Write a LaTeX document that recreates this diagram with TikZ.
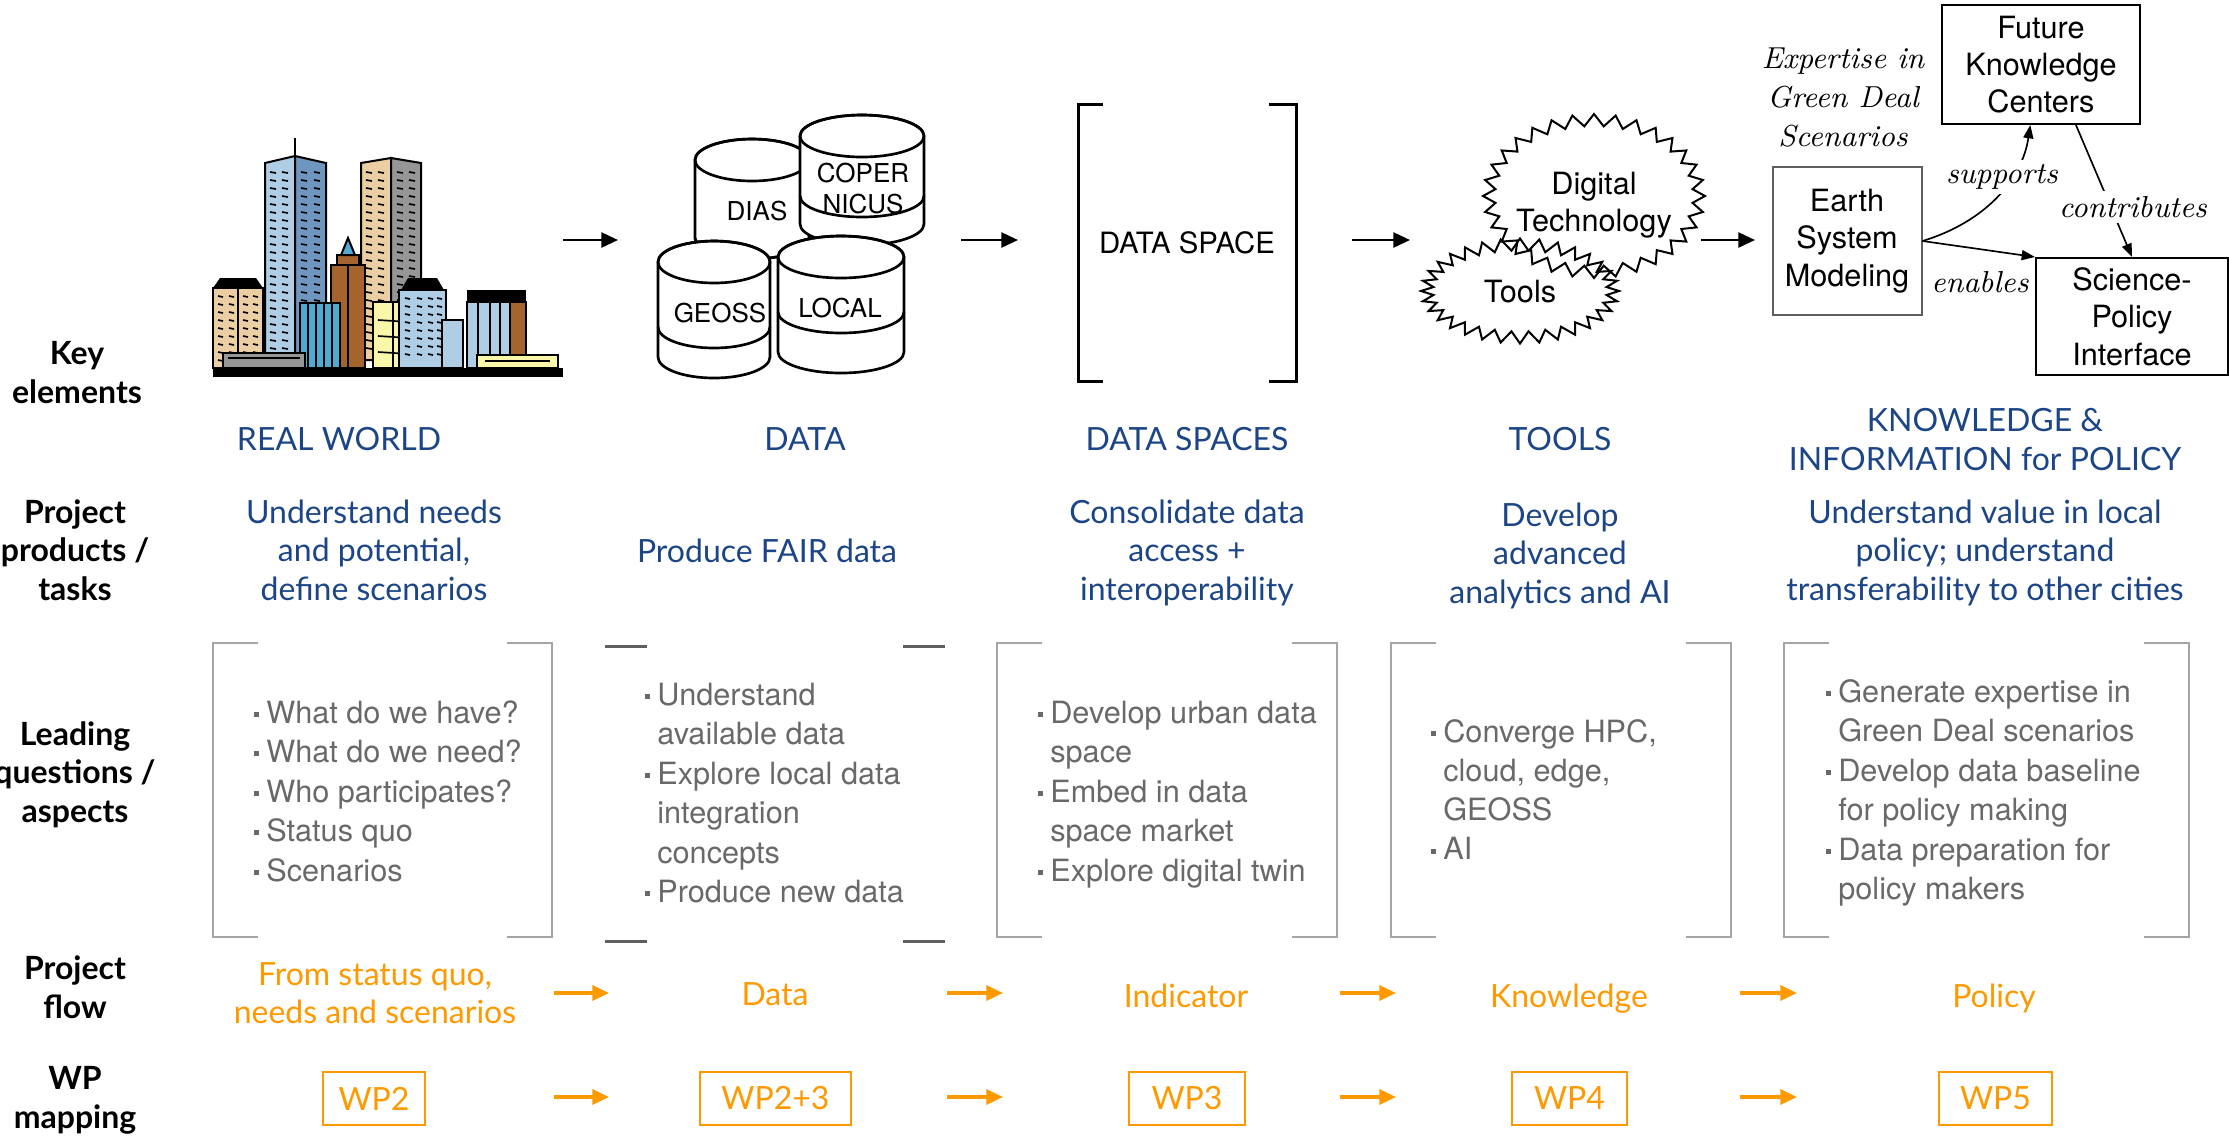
\documentclass[tikz,border=0pt]{standalone}
\usepackage{fontspec}
\newfontfamily\lato{Lato}
\newfontfamily\helv{TeX Gyre Heros}
\usetikzlibrary{arrows.meta,shapes.symbols}

\definecolor{kblue}{RGB}{28,69,135}
\definecolor{korange}{RGB}{255,153,0}
\definecolor{qgrey}{RGB}{105,105,105}
\definecolor{bgrey}{RGB}{165,165,165}
\definecolor{bdark}{RGB}{95,95,95}
\definecolor{ctan}{RGB}{236,206,165}
\definecolor{cblue}{RGB}{176,205,230}
\definecolor{csteel}{RGB}{110,150,190}
\definecolor{cbrown}{RGB}{165,100,45}
\definecolor{cyellow}{RGB}{250,246,170}
\definecolor{cteal}{RGB}{80,170,210}
\definecolor{cgrey}{RGB}{150,150,150}

\newcommand{\qb}{\makebox[3.8pt][l]{\rule[1.9pt]{1.5pt}{1.5pt}}}
\newcommand{\qc}{\hspace*{3.8pt}}

\tikzset{
  rowlab/.style={font=\lato\bfseries\fontsize{9.6}{11.55}\selectfont, align=center, anchor=base, inner sep=0pt},
  head/.style={font=\lato\fontsize{9.6}{11.55}\selectfont, text=kblue, align=center, anchor=base, inner sep=0pt},
  flowtxt/.style={font=\lato\fontsize{9.6}{11.4}\selectfont, text=korange, align=center, anchor=base, inner sep=0pt},
  qtext/.style={font=\helv\fontsize{9.2}{11}\selectfont, text=qgrey, anchor=base west, inner sep=0pt},
  wpbox/.style={draw=korange, line width=0.6pt, minimum height=16pt, inner sep=0pt, text=korange, font=\lato\fontsize{9.6}{11}\selectfont},
  flowarr/.style={korange, line width=1pt, -{Triangle[length=5pt,width=4.5pt]}},
  keyarr/.style={black, line width=0.8pt, -{Triangle[length=5pt,width=4.5pt]}},
  brk/.style={draw=bgrey, line width=0.5pt},
  city/.style={draw=black, line width=0.6pt},
  win/.style={black, line width=0.5pt},
  dbline/.style={draw=black, line width=0.8pt},
  dbtxt/.style={font=\helv\fontsize{7.8}{9.3}\selectfont, anchor=base, inner sep=0pt},
  sans/.style={font=\helv\fontsize{9.2}{11.2}\selectfont, align=center},
  burst/.style={draw, starburst, random starburst=0, starburst points=32, starburst point height=3.6pt, line width=0.6pt, inner sep=0pt},
  kbox/.style={draw, line width=0.6pt, sans, inner sep=0pt},
  lab/.style={font=\itshape\fontsize{9.1}{11.7}\selectfont, align=center, inner sep=1.5pt},
  conn/.style={line width=0.5pt, -{Triangle[length=4pt,width=3pt]}}
}

\begin{document}
\begin{tikzpicture}[x=0.3pt,y=0.3pt,yscale=-1,xscale=1]
\useasboundingbox (0,0) rectangle (2229,1139);

% row labels (base = last line)
\node[rowlab] (rkey) at (77,403) {Key\\elements};
\node[rowlab] (rprod) at (75,600) {Project\\products /\\tasks};
\node[rowlab] (rlead) at (75,822) {Leading\\questions /\\aspects};
\node[rowlab] (rflow) at (75,1018) {Project\\flow};
\node[rowlab] (rwp) at (75,1128) {WP\\mapping};

% city
\draw[city, fill=cblue] (265,163) -- (295,156) -- (295,360) -- (265,360) -- cycle;
\draw[city, fill=csteel] (295,156) -- (326,163) -- (326,360) -- (295,360) -- cycle;
\draw[city] (295,156) -- (295,138);
\draw[city, fill=ctan] (361,163) -- (391,158) -- (391,360) -- (361,360) -- cycle;
\draw[city, fill=cgrey] (391,158) -- (421,163) -- (421,360) -- (391,360) -- cycle;
\foreach \y in {172,180,...,348}
  \foreach \x in {270,282,301,314,366,378,397,409}
    \draw[win] (\x,\y) -- ++(6,1);
\draw[city, fill=ctan] (213,288) rectangle (263,368);
\fill (213,288) -- (220,278) -- (256,278) -- (263,288) -- cycle;
\draw[city] (238,288) -- (238,368);
\foreach \y in {296,304,...,360}
  \foreach \x in {218,229,243,253}
    \draw[win] (\x,\y) -- ++(5,1);
\draw[city, fill=cbrown] (331,265) rectangle (365,368);
\draw[city, fill=cbrown] (337,255) rectangle (359,265);
\draw[city, fill=cteal] (341,255) -- (348,238) -- (355,255) -- cycle;
\draw[city] (348,265) -- (348,368);
\draw[city, fill=cteal] (300,303) rectangle (340,368);
\foreach \x in {308,316,324,332}
  \draw[win] (\x,303) -- (\x,368);
\draw[city, fill=cyellow] (373,302) rectangle (414,368);
\draw[city] (393,302) -- (393,368);
\foreach \y in {320,336,352}
  \draw[win] (378,\y) -- (410,\y+2);
\draw[city, fill=cblue] (399,290) rectangle (446,368);
\fill (401,290) -- (408,278) -- (437,278) -- (444,290) -- cycle;
\foreach \y in {298,306,...,360}
  \foreach \x in {405,417,428,437}
    \draw[win] (\x,\y) -- ++(5,1);
\draw[city, fill=cblue] (442,320) rectangle (463,368);
\draw[city, fill=cblue] (467,302) rectangle (526,368);
\draw[city, fill=cbrown] (510,302) rectangle (526,368);
\fill (467,290) rectangle (526,302);
\foreach \x in {478,490,500}
  \draw[win] (\x,302) -- (\x,368);
\draw[city, fill=cgrey] (223,353) rectangle (305,368);
\draw[win] (228,358) -- (300,358);
\draw[city, fill=cyellow] (477,355) rectangle (558,368);
\draw[win] (485,361) -- (550,361);
\fill (213,368) rectangle (563,377);

% data cylinders
\foreach \cx/\ty/\rx/\by/\my in {752/160/57/238/238, 862/136/62/224/196, 714/262/56/357/327, 841/257/63/352/312} {
  \draw[dbline, fill=white] (\cx-\rx,\ty) -- (\cx-\rx,\by) arc[start angle=180, end angle=0, x radius=\rx, y radius=21] -- (\cx+\rx,\ty) arc[start angle=0, end angle=-180, x radius=\rx, y radius=21] -- cycle;
  \draw[dbline] (\cx,\ty) ellipse[x radius=\rx, y radius=21];
  \draw[dbline] (\cx-\rx,\my) arc[start angle=180, end angle=0, x radius=\rx, y radius=21];
}
\node[dbtxt] (dias) at (757,220) {DIAS};
\node[dbtxt, align=center] (coper) at (863,213) {COPER\\NICUS};
\node[dbtxt] (geoss) at (720,322) {GEOSS};
\node[dbtxt] (local) at (840,317) {LOCAL};

% data space
\draw[line width=0.9pt] (1103,104) -- (1078,104) -- (1078,381) -- (1103,381);
\draw[line width=0.9pt] (1269,104) -- (1296,104) -- (1296,381) -- (1269,381);
\node[sans, anchor=base, inner sep=0pt, font=\helv\fontsize{8.8}{10}\selectfont] (dspace) at (1187,253) {DATA SPACE};

% tools
\node[burst, minimum width=66.6pt, minimum height=49.2pt] (dtech) at (1594,196) {};
\node[burst, minimum width=59.4pt, minimum height=31.5pt] (tools) at (1520,291) {};
\node[sans, inner sep=0pt] (dtechtxt) at (1594,205) {Digital\\Technology};
\node[sans, inner sep=0pt] (toolstxt) at (1520,292) {Tools};

% knowledge
\node[kbox, draw=bdark, minimum width=44.7pt, minimum height=44.4pt] (esm) at (1847,241) {Earth\\System\\Modeling};
\node[kbox, minimum width=59.4pt, minimum height=35.7pt] (fkc) at (2041,64.5) {Future\\Knowledge\\Centers};
\node[kbox, minimum width=57.6pt, minimum height=35.1pt] (spi) at (2132,316.5) {Science-\\Policy\\Interface};
\node[lab] (expert) at (1843,98) {Expertise in\\Green Deal\\Scenarios};
\draw[conn] (esm.east) .. controls (1985,222) and (2022,180) .. (fkc.260);
\draw[conn] (esm.east) -- (spi.north west);
\draw[conn] (fkc.300) -- (spi.north);
\node[lab, fill=white] (lsup) at (2002,177) {supports};
\node[lab, fill=white] (lcon) at (2133,207) {contributes};
\node[lab] (lena) at (1980,282) {enables};

% key arrows
\foreach \xa/\xb [count=\i] in {563/618, 961/1018, 1352/1410, 1701/1755} {
  \coordinate (ka\i) at (\xa,240);
  \coordinate (kb\i) at (\xb,240);
  \draw[keyarr] (ka\i) -- (kb\i);
}

% headers
\node[head] (hreal) at (339,450) {REAL WORLD};
\node[head] (hdata) at (805,450) {DATA};
\node[head] (hspace) at (1187,450) {DATA SPACES};
\node[head] (htools) at (1560,450) {TOOLS};
\node[head] (hknow) at (1985,470) {KNOWLEDGE \&\\INFORMATION for POLICY};

% tasks
\node[head] (t1) at (374,600) {Understand needs\\and potential,\\define scenarios};
\node[head] (t2) at (767,562) {Produce FAIR data};
\node[head] (t3) at (1187,600) {Consolidate data\\access +\\interoperability};
\node[head] (t4) at (1560,603) {Develop\\advanced\\analytics and AI};
\node[head] (t5) at (1985,600) {Understand value in local\\policy; understand\\transferability to other cities};

% brackets
\foreach \l/\r in {213/552, 997/1337, 1391/1731, 1784/2189} {
  \draw[brk] (\l+45,643) -- (\l,643) -- (\l,937) -- (\l+45,937);
  \draw[brk] (\r-45,643) -- (\r,643) -- (\r,937) -- (\r-45,937);
}
\foreach \x in {605,903}
  \foreach \y in {646,941}
    \draw[draw=bdark, line width=0.9pt] (\x,\y) -- (\x+42,\y);

% questions
\foreach \t [count=\i] in {\qb What do we have?, \qb What do we need?, \qb Who participates?, \qb Status quo, \qb Scenarios}
  \node[qtext] (qa\i) at (253,723+39.5*\i-39.5) {\t};
\foreach \t [count=\i] in {\qb Understand, \qc available data, \qb Explore local data, \qc integration, \qc concepts, \qb Produce new data}
  \node[qtext] (qb\i) at (644,705+39.5*\i-39.5) {\t};
\foreach \t [count=\i] in {\qb Develop urban data, \qc space, \qb Embed in data, \qc space market, \qb Explore digital twin}
  \node[qtext] (qc\i) at (1037,723+39.5*\i-39.5) {\t};
\foreach \t [count=\i] in {{\qb Converge HPC,}, {\qc cloud, edge,}, \qc GEOSS, \qb AI}
  \node[qtext] (qd\i) at (1430,742+39.3*\i-39.3) {\t};
\foreach \t [count=\i] in {\qb Generate expertise in, \qc Green Deal scenarios, \qb Develop data baseline, \qc for policy making, \qb Data preparation for, \qc policy makers}
  \node[qtext] (qe\i) at (1825,702+39.5*\i-39.5) {\t};

% project flow
\node[flowtxt] (f1) at (375,1023) {From status quo,\\needs and scenarios};
\node[flowtxt] (f2) at (775,1005) {Data};
\node[flowtxt] (f3) at (1186,1007) {Indicator};
\node[flowtxt] (f4) at (1569,1007) {Knowledge};
\node[flowtxt] (f5) at (1994,1007) {Policy};

% wp mapping
\node[wpbox, minimum width=30.6pt] (wp2) at (374,1098.5) {WP2};
\node[wpbox, minimum width=45.3pt] (wp23) at (775.5,1098.5) {WP2+3};
\node[wpbox, minimum width=34.8pt] (wp3) at (1187,1098.5) {WP3};
\node[wpbox, minimum width=34.5pt] (wp4) at (1569.5,1098.5) {WP4};
\node[wpbox, minimum width=33.9pt] (wp5) at (1995.5,1098.5) {WP5};

\foreach \xa/\xb [count=\i] in {554/609, 947/1003, 1340/1396, 1740/1797} {
  \coordinate (fa\i) at (\xa,993);
  \coordinate (fb\i) at (\xb,993);
  \draw[flowarr] (fa\i) -- (fb\i);
  \coordinate (wa\i) at (\xa,1097);
  \coordinate (wb\i) at (\xb,1097);
  \draw[flowarr] (wa\i) -- (wb\i);
}

\end{tikzpicture}
\end{document}
